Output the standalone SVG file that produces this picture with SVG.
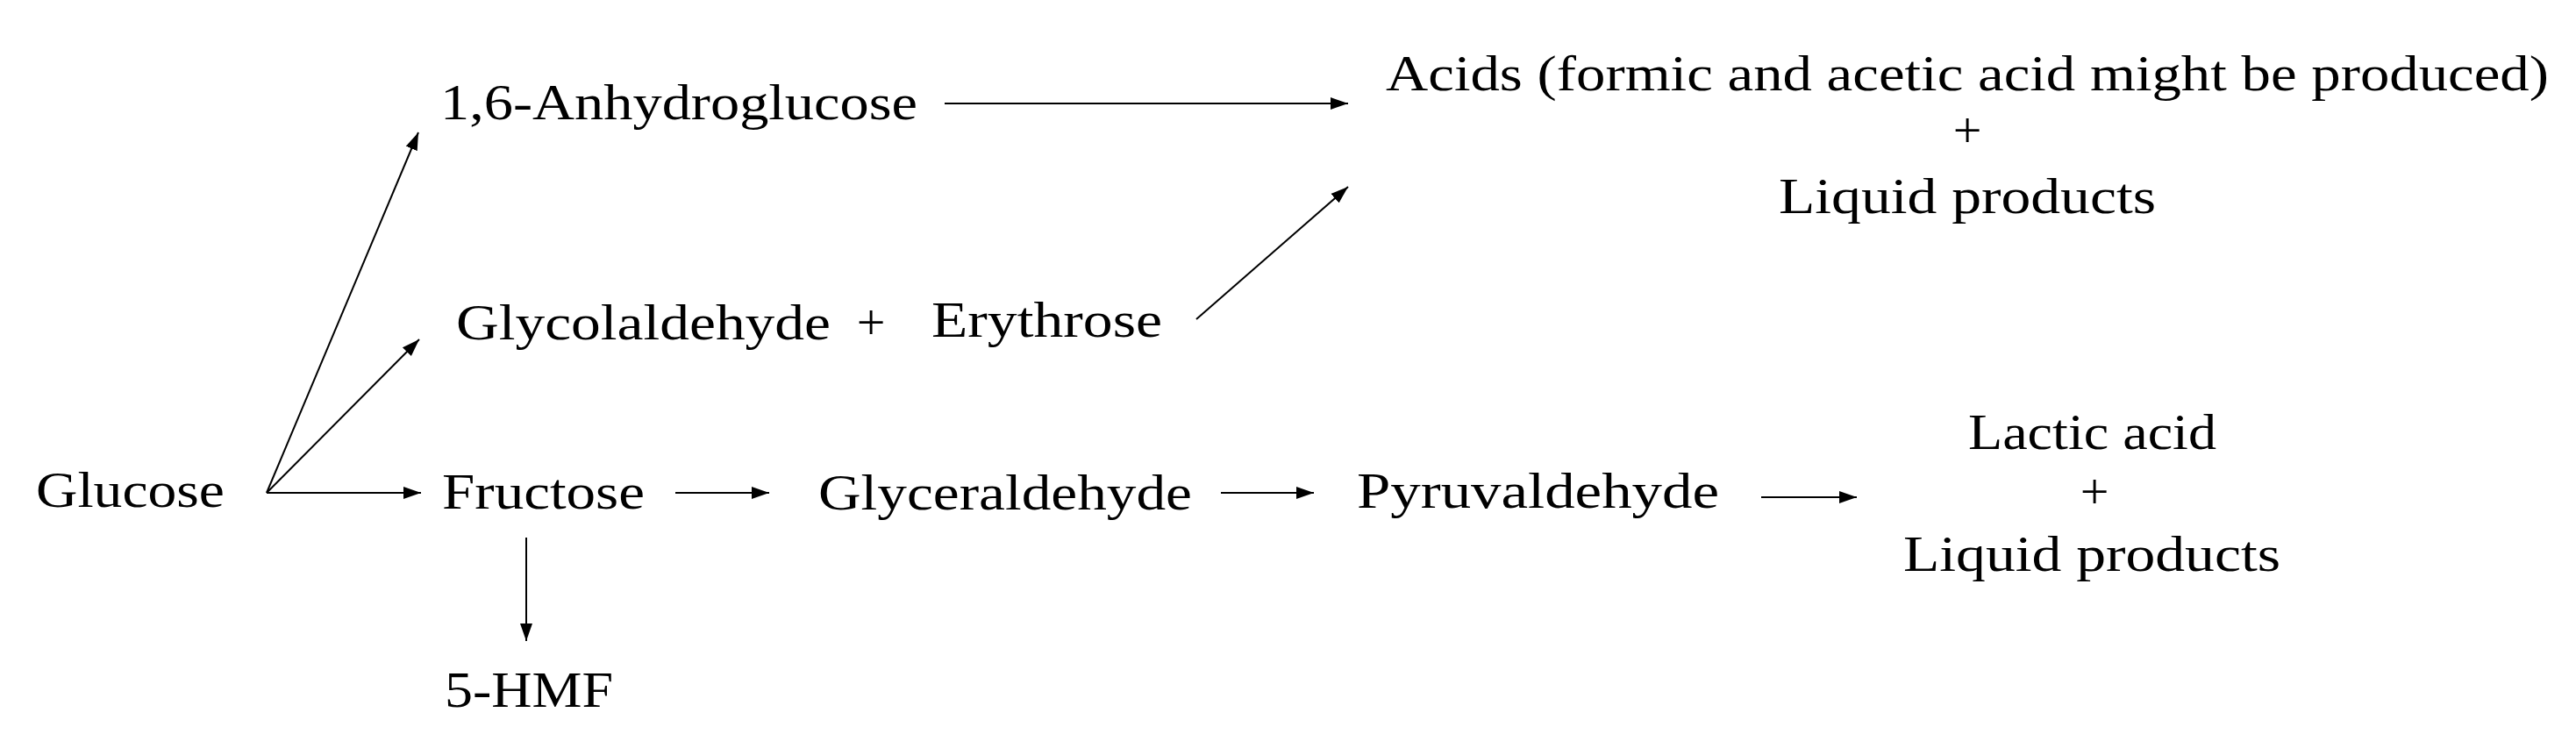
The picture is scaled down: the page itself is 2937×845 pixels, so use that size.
<svg xmlns="http://www.w3.org/2000/svg" width="2937" height="845" viewBox="0 0 2937 845">
<style>
text{font-family:"Liberation Serif","DejaVu Serif",serif;font-size:58px;fill:#000}
.c{text-anchor:middle}
.l{stroke:#000;stroke-width:2;fill:none;marker-end:url(#ah)}
</style>
<defs><marker id="ah" markerUnits="userSpaceOnUse" markerWidth="22" markerHeight="16" refX="20" refY="8" orient="auto"><path d="M0,1 L20,8 L0,15 Z" fill="#000"/></marker></defs>
<rect width="2937" height="845" fill="#fff"/>
<g id="glucose"><text x="41" y="578" textLength="215" lengthAdjust="spacingAndGlyphs">Glucose</text></g>
<g id="anhydro"><text x="502" y="136" textLength="544" lengthAdjust="spacingAndGlyphs">1,6-Anhydroglucose</text></g>
<g id="acids"><text x="1580" y="103" textLength="1326" lengthAdjust="spacingAndGlyphs">Acids (formic and acetic acid might be produced)</text><text class="c" x="2243" y="168">+</text><text x="2028" y="243" textLength="430" lengthAdjust="spacingAndGlyphs">Liquid products</text></g>
<g id="glycol"><text x="520" y="387" textLength="427" lengthAdjust="spacingAndGlyphs">Glycolaldehyde</text><text class="c" x="993" y="387">+</text><text x="1062" y="384" textLength="263" lengthAdjust="spacingAndGlyphs">Erythrose</text></g>
<g id="fructose"><text x="504" y="580" textLength="231" lengthAdjust="spacingAndGlyphs">Fructose</text></g>
<g id="glyceraldehyde"><text x="933" y="581" textLength="426" lengthAdjust="spacingAndGlyphs">Glyceraldehyde</text></g>
<g id="pyruvaldehyde"><text x="1547" y="579" textLength="413" lengthAdjust="spacingAndGlyphs">Pyruvaldehyde</text></g>
<g id="lactic"><text x="2244" y="512" textLength="283" lengthAdjust="spacingAndGlyphs">Lactic acid</text><text class="c" x="2388" y="580">+</text><text x="2170" y="651" textLength="430" lengthAdjust="spacingAndGlyphs">Liquid products</text></g>
<g id="hmf"><text x="507" y="806" textLength="192" lengthAdjust="spacingAndGlyphs">5-HMF</text></g>
<g id="connectors">
<line class="l" x1="304" y1="562" x2="477" y2="151"/>
<line class="l" x1="304" y1="562" x2="478" y2="387"/>
<line class="l" x1="304" y1="562" x2="480" y2="562"/>
<line class="l" x1="1077" y1="118" x2="1537" y2="118"/>
<line class="l" x1="1364" y1="364" x2="1537" y2="213"/>
<line class="l" x1="770" y1="562" x2="877" y2="562"/>
<line class="l" x1="1392" y1="562" x2="1498" y2="562"/>
<line class="l" x1="2008" y1="567" x2="2117" y2="567"/>
<line class="l" x1="600" y1="613" x2="600" y2="731"/>
</g>
</svg>
